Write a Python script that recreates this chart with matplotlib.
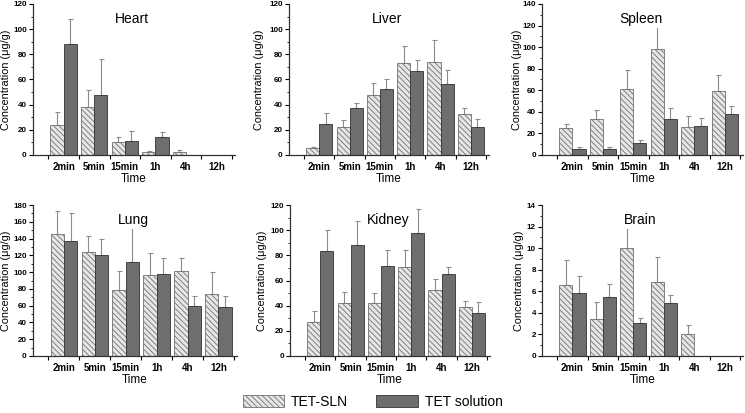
import numpy as np
import matplotlib.pyplot as plt
from matplotlib.patches import Patch
from matplotlib.ticker import MultipleLocator, FixedLocator

plt.rcParams["font.family"] = ["Liberation Sans", "DejaVu Sans"]
plt.rcParams["hatch.linewidth"] = 0.6

TIMES = ["2min", "5min", "15min", "1h", "4h", "12h"]

# TET-SLN mean / upper error, TET solution mean / upper error
HEART_SLN = [24, 38.5, 10.5, 2.5, 2.5, 0]
HEART_SLN_ERR = [10, 13.5, 4, 1, 1.5, 0]
HEART_SOL = [88, 47.5, 11, 14, 0, 0]
HEART_SOL_ERR = [20, 29, 8, 4.5, 0, 0]

LIVER_SLN = [5.5, 22.5, 47.5, 73, 74, 32.5]
LIVER_SLN_ERR = [0.5, 5.5, 9.5, 13.5, 17, 5]
LIVER_SOL = [25, 37, 52.5, 66.5, 56.5, 22]
LIVER_SOL_ERR = [8, 4.5, 8, 9, 11, 7]

SPLEEN_SLN = [25, 33, 61, 98, 25.5, 59]
SPLEEN_SLN_ERR = [4, 8.5, 17.5, 22.5, 10.5, 15]
SPLEEN_SOL = [6, 5.5, 11, 33, 26.5, 38]
SPLEEN_SOL_ERR = [1.5, 2, 2.5, 10.5, 7.5, 7.5]

LUNG_SLN = [146, 123.5, 79, 96.5, 101, 74]
LUNG_SLN_ERR = [27, 19.5, 22, 26, 15.5, 26]
LUNG_SOL = [136.5, 120.5, 112, 98, 59.5, 58]
LUNG_SOL_ERR = [34.5, 19, 40.5, 19, 12.5, 13]

KIDNEY_SLN = [27, 42, 42, 70.5, 52.5, 39]
KIDNEY_SLN_ERR = [9, 9, 8, 14, 9, 4.5]
KIDNEY_SOL = [83.5, 88.5, 71.5, 97.5, 65, 34.5]
KIDNEY_SOL_ERR = [17, 19, 13, 19, 6, 8.5]

BRAIN_SLN = [6.6, 3.4, 10.05, 6.9, 2.0, 0]
BRAIN_SLN_ERR = [2.3, 1.65, 1.8, 2.25, 0.85, 0]
BRAIN_SOL = [5.8, 5.45, 3.05, 4.9, 0, 0]
BRAIN_SOL_ERR = [1.65, 1.25, 0.5, 0.75, 0, 0]

PANELS = [
    ("Heart", HEART_SLN, HEART_SLN_ERR, HEART_SOL, HEART_SOL_ERR, 120, 20),
    ("Liver", LIVER_SLN, LIVER_SLN_ERR, LIVER_SOL, LIVER_SOL_ERR, 120, 20),
    ("Spleen", SPLEEN_SLN, SPLEEN_SLN_ERR, SPLEEN_SOL, SPLEEN_SOL_ERR, 140, 20),
    ("Lung", LUNG_SLN, LUNG_SLN_ERR, LUNG_SOL, LUNG_SOL_ERR, 180, 20),
    ("Kidney", KIDNEY_SLN, KIDNEY_SLN_ERR, KIDNEY_SOL, KIDNEY_SOL_ERR, 120, 20),
    ("Brain", BRAIN_SLN, BRAIN_SLN_ERR, BRAIN_SOL, BRAIN_SOL_ERR, 14, 2),
]

W, H = 745, 413
# axes boxes in pixels: left, right, top, bottom, y-label x position
BOXES = [
    (33, 235, 4, 155, 6), (289, 489, 4, 155, 259), (542, 743, 4, 155, 517),
    (33, 237, 205, 356, 6), (290, 490, 205, 356, 262), (542, 743, 205, 356, 519),
]

SLN_FACE = "#e6e6e6"
SLN_EDGE = "#707070"
SOL_FACE = "#6e6e6e"
ERR_COLOR = "#8c8c8c"

fig = plt.figure(figsize=(W / 100, H / 100), dpi=100)
x = np.arange(1, len(TIMES) + 1)
bw = 0.43

for (name, sln, sln_err, sol, sol_err, ymax, step), (l, r, t, b, lx) in zip(PANELS, BOXES):
    ax = fig.add_axes([l / W, 1 - b / H, (r - l) / W, (b - t) / H])
    ax.bar(x - bw / 2, sln, bw, color=SLN_FACE, edgecolor=SLN_EDGE,
           hatch="\\\\\\\\\\\\", linewidth=0.6, zorder=2)
    ax.bar(x + bw / 2, sol, bw, color=SOL_FACE, edgecolor="#333333",
           linewidth=0.6, zorder=2)
    for xs, m, e in [(x - bw / 2, sln, sln_err), (x + bw / 2, sol, sol_err)]:
        m = np.array(m, dtype=float)
        e = np.array(e, dtype=float)
        keep = m > 0
        ax.errorbar(xs[keep], m[keep], yerr=[np.zeros(keep.sum()), e[keep]],
                    fmt="none", ecolor=ERR_COLOR, elinewidth=0.8,
                    capsize=1.8, capthick=0.8, zorder=1)
    ax.set_xlim(0, 6.6)
    ax.set_ylim(0, ymax)
    ax.yaxis.set_major_locator(MultipleLocator(step))
    ax.yaxis.set_minor_locator(MultipleLocator(step / 2))
    ax.xaxis.set_major_locator(FixedLocator(np.arange(0.5, 7, 1.0)))
    ax.xaxis.set_minor_locator(FixedLocator(x))
    ax.set_xticklabels([])
    ax.set_xticklabels(TIMES, minor=True, fontsize=7, fontweight="bold")
    ax.tick_params(axis="x", which="minor", length=0, pad=5)
    ax.tick_params(axis="x", which="major", direction="out", length=3, width=0.8)
    ax.tick_params(axis="y", which="major", direction="out", length=3, width=0.8,
                   labelsize=5.8, pad=1.5)
    ax.tick_params(axis="y", which="minor", direction="out", length=1.8, width=0.6)
    for lab in ax.get_yticklabels():
        lab.set_fontweight("bold")
    for side in ["top", "right"]:
        ax.spines[side].set_visible(False)
    for side in ["left", "bottom"]:
        ax.spines[side].set_linewidth(0.9)
        ax.spines[side].set_color("#333333")
    ax.set_xlabel("Time", fontsize=8.5, labelpad=1)
    ax.set_ylabel("Concentration (\u03bcg/g)", fontsize=7.8, va="center")
    ax.yaxis.set_label_coords((lx - l) / (r - l), 0.5)
    ax.text(0.49, 0.95, name, transform=ax.transAxes, ha="center", va="top",
            fontsize=10, zorder=5,
            bbox=dict(facecolor="white", edgecolor="none", pad=1.5))

handles = [
    Patch(facecolor=SLN_FACE, edgecolor=SLN_EDGE, hatch="\\\\\\\\\\\\", linewidth=0.6),
    Patch(facecolor=SOL_FACE, edgecolor="#333333", linewidth=0.6),
]
fig.legend(handles, ["TET-SLN", "TET solution"], loc="center",
           bbox_to_anchor=(0.5, 1 - 402 / H), ncol=2, frameon=False,
           fontsize=10, handlelength=3.0, handleheight=1.0,
           columnspacing=2.0, handletextpad=0.5)

fig.savefig("out.png", dpi=100)
